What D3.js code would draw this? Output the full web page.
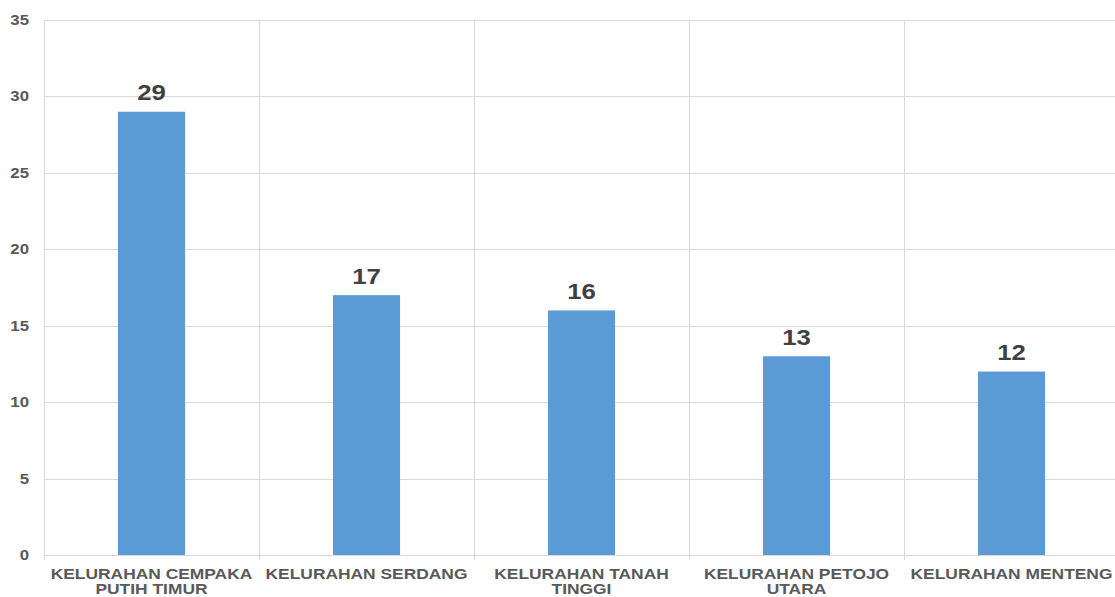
<!DOCTYPE html>
<html>
<head>
<meta charset="utf-8">
<script src="https://cdn.jsdelivr.net/npm/d3@7"></script>
<style>
  html, body { margin: 0; padding: 0; background: #fff; }
  svg { display: block; }
  text { font-family: "Liberation Sans", Arial, sans-serif; }
</style>
</head>
<body>
<svg id="chart" width="1115" height="597"></svg>
<script>
// Kelurahan names (split into display lines) and their counts
const categories = [
  ["KELURAHAN CEMPAKA", "PUTIH TIMUR"],
  ["KELURAHAN SERDANG"],
  ["KELURAHAN TANAH", "TINGGI"],
  ["KELURAHAN PETOJO", "UTARA"],
  ["KELURAHAN MENTENG"]
];
const values = [29, 17, 16, 13, 12];
const yTicks = [0, 5, 10, 15, 20, 25, 30, 35];

const svg = d3.select("#chart");
const margin = { left: 44, top: 20, right: -4, bottom: 42 };
const W = 1115, H = 597;
const x0 = margin.left, x1 = W - margin.right;
const y0 = H - margin.bottom, y1 = margin.top;

const keys = categories.map((c, i) => i);
const x = d3.scaleBand().domain(keys).range([x0, x1]).paddingInner(0).paddingOuter(0);
const y = d3.scaleLinear().domain([0, 35]).range([y0, y1]);

const grid = "#d9d9d9";
// text in this chart is set slightly wide
const wide = (px, py, s) => `translate(${px},${py}) scale(${s},1)`;

// horizontal gridlines
svg.append("g").selectAll("line").data(yTicks).join("line")
  .attr("x1", x0).attr("x2", x1)
  .attr("y1", d => Math.round(y(d)) + 0.5).attr("y2", d => Math.round(y(d)) + 0.5)
  .attr("stroke", grid).attr("stroke-width", 1);

// vertical category separators, with small ticks below the axis
const seps = keys.map(k => x(k)).concat([x1]);
svg.append("g").selectAll("line").data(seps).join("line")
  .attr("x1", d => Math.round(d) + 0.5).attr("x2", d => Math.round(d) + 0.5)
  .attr("y1", y1).attr("y2", y0 + 5)
  .attr("stroke", grid).attr("stroke-width", 1);

// y-axis labels
svg.append("g").selectAll("text").data(yTicks).join("text")
  .attr("transform", d => wide(29, y(d) + 5, 1.2))
  .attr("text-anchor", "end")
  .attr("font-size", 14).attr("font-weight", "bold").attr("fill", "#595959")
  .text(d => d);

// bars
const barW = x.bandwidth() * 0.312;
svg.append("g").selectAll("rect").data(values).join("rect")
  .attr("x", (d, i) => x(i) + x.bandwidth() / 2 - barW / 2)
  .attr("y", d => y(d))
  .attr("width", barW)
  .attr("height", d => y0 - y(d))
  .attr("fill", "#5b9bd5");

// value labels
svg.append("g").selectAll("text").data(values).join("text")
  .attr("transform", (d, i) => wide(x(i) + x.bandwidth() / 2, y(d) - 11.5, 1.12))
  .attr("text-anchor", "middle")
  .attr("font-size", 23).attr("font-weight", "bold").attr("fill", "#404040")
  .text(d => d);

// category labels
const cat = svg.append("g").selectAll("text").data(categories).join("text")
  .attr("transform", (d, i) => wide(x(i) + x.bandwidth() / 2, 578.5, 1.16))
  .attr("text-anchor", "middle")
  .attr("font-size", 15).attr("font-weight", "bold").attr("fill", "#595959");
cat.selectAll("tspan").data(d => d).join("tspan")
  .attr("x", 0)
  .attr("dy", (d, i) => i === 0 ? 0 : 16)
  .text(d => d);
</script>
</body>
</html>
